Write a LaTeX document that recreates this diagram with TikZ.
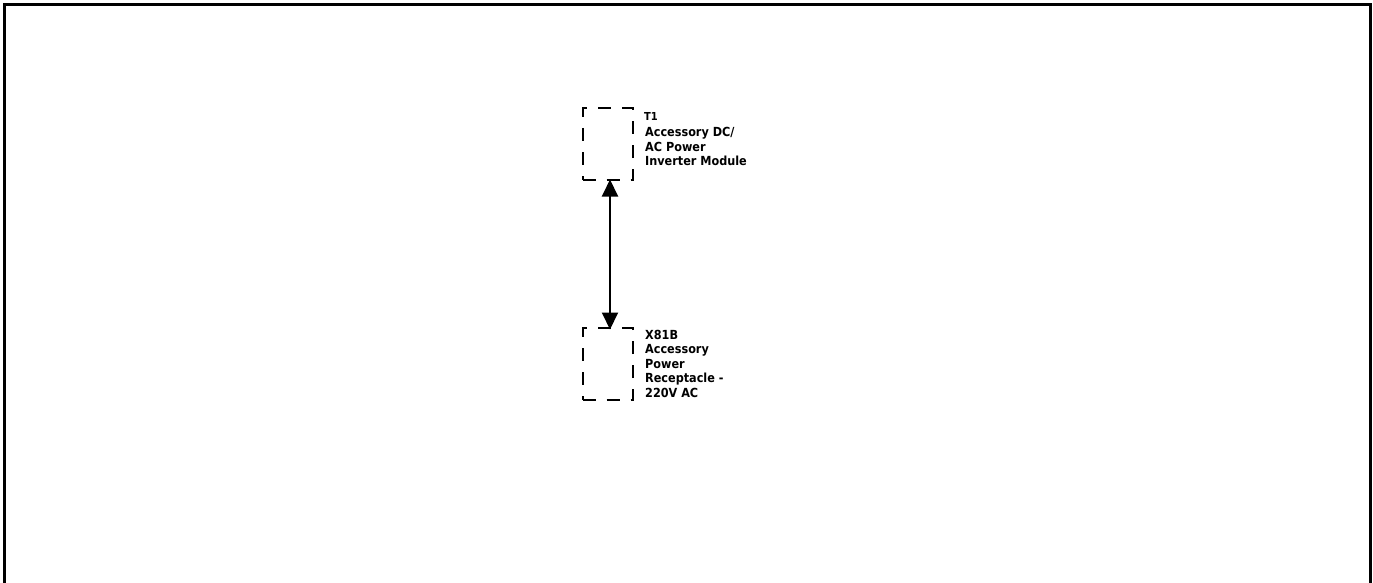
\documentclass[tikz,border=0pt]{standalone}
\usepackage{fontspec}
\newfontfamily\lblfont{DejaVu Sans Condensed}[BoldFont={DejaVu Sans Condensed Bold}]
\usetikzlibrary{arrows.meta}
\begin{document}
\begin{tikzpicture}[x=1pt,y=-1pt,
  dbox/.style={draw,line width=2pt,dash pattern=on 13pt off 11pt,minimum width=50pt,minimum height=72pt,inner sep=0pt},
  lbl/.style={anchor=base west,align=left,inner sep=0pt,font=\lblfont\bfseries\fontsize{12.5}{14.5}\selectfont},
  idlbl/.style={anchor=base west,align=left,inner sep=0pt,font=\lblfont\bfseries\fontsize{11}{12}\selectfont},
  conn/.style={line width=2pt,{Triangle[length=17pt,width=16pt]}-{Triangle[length=17pt,width=16pt]}}]
\useasboundingbox (0,0) rectangle (1373,583);
\draw[line width=3pt] (4.5,583) -- (4.5,4.5) -- (1370.5,4.5) -- (1370.5,583);
\node[dbox] (t1) at (607.5,144) {};
\node[dbox] (x81) at (607.5,364) {};
\node[idlbl] (t1id) at (644,120.5) {T1};
\node[lbl] (t1l) at (645,165.5) {Accessory DC/\\AC Power\\Inverter Module};
\node[lbl] (x81l) at (645,397) {X81B\\Accessory\\Power\\Receptacle -\\220V AC};
\draw[conn] ([xshift=2.5pt,yshift=1.5pt]t1.south) -- ([xshift=2.5pt,yshift=-2.5pt]x81.north);
\end{tikzpicture}
\end{document}
